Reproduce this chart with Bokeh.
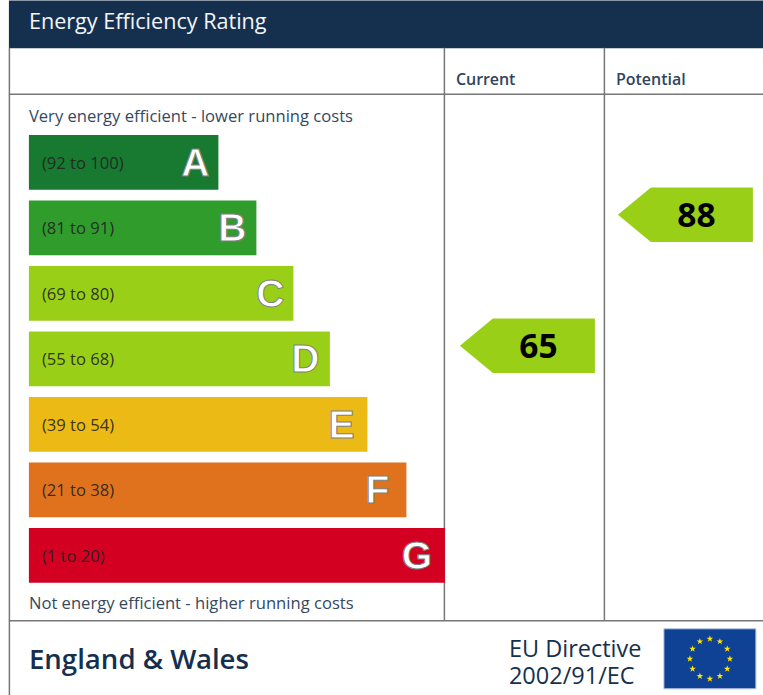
import math
from bokeh.plotting import figure
from bokeh.models import Range1d, ColumnDataSource
from bokeh.core.properties import value
from bokeh.embed import file_html
from bokeh.resources import INLINE

# ---- data ----
bands = ["A", "B", "C", "D", "E", "F", "G"]
ranges = ["(92 to 100)", "(81 to 91)", "(69 to 80)", "(55 to 68)", "(39 to 54)", "(21 to 38)", "(1 to 20)"]
bar_lengths = [189.5, 227.5, 264.5, 301, 338.5, 377.5, 416]
colors = ["#177a30", "#2f9c2c", "#99cf17", "#99cf17", "#ecba14", "#e0721e", "#d40021"]
current = 65
potential = 88
title = "Energy Efficiency Rating"
columns = ["Current", "Potential"]
top_note = "Very energy efficient - lower running costs"
bottom_note = "Not energy efficient - higher running costs"
region = "England & Wales"
directive = ["EU Directive", "2002/91/EC"]

NAVY = "#15304f"
GREY = "#777777"
POINTER = "#99cf17"
FONT = value("Open Sans")
SEMI = value("Open Sans SemiBold")

W, H = 763, 695
p = figure(width=W, height=H, output_backend="svg", toolbar_location=None,
           x_range=Range1d(0.6, W + 0.6), y_range=Range1d(H + 0.7, 0.7),
           min_border=0, outline_line_color=None, background_fill_color="white",
           border_fill_color="white", margin=(0, 0, 0, 0))
p.xaxis.visible = False
p.yaxis.visible = False
p.grid.visible = False

X0, ROW0, STEP, BH = 29.0, 162.6, 65.5, 54.6
ys = [ROW0 + i * STEP for i in range(len(bands))]
letter_offset = [23, 24, 23, 24.5, 26, 29, 28]

# header
p.quad(left=[9], right=[W + 1], top=[0], bottom=[48.5], fill_color=NAVY, line_color=None)
p.text(x=[29], y=[21], text=[title], text_font=FONT, text_font_size="21.6px",
       text_color="#f4f6f8", text_baseline="middle")

# frame lines
p.segment(x0=[9.5, 9, 9, 444.5, 604.5], y0=[48, 94.5, 621, 48, 48],
          x1=[9.5, W + 1, W + 1, 444.5, 604.5], y1=[696, 94.5, 621, 621, 621],
          line_color=GREY, line_width=1.5)
p.text(x=[456, 616], y=[79.3, 79.3], text=columns, text_font=SEMI, text_font_size="16px",
       text_color="#2f4560", text_baseline="middle")

# notes
p.text(x=[29, 29], y=[115.3, 602.8], text=[top_note, bottom_note], text_font=FONT,
       text_font_size="16.6px", text_color="#34495f", text_baseline="middle")

# bars
src = ColumnDataSource(dict(y=ys, r=[X0 + v for v in bar_lengths], c=colors, rng=ranges, b=bands,
                            lx=[X0 + v - o for v, o in zip(bar_lengths, letter_offset)],
                            tx=[42] * 7))
p.hbar(y="y", left=X0, right="r", height=BH, fill_color="c", line_color=None, source=src)
p.text(x="tx", y="y", text="rng", text_font=FONT, text_font_size="16.6px", text_color="#222222",
       text_alpha=0.9, text_baseline="middle", source=src)
p.text(x="lx", y="y", text="b", text_font=value("Liberation Sans"), text_font_size="39px",
       text_font_style="bold", text_color="white", text_align="center", text_baseline="middle",
       text_outline_color="#808080", source=src)


# pointers: vertical position follows the score
def score_y(score):
    return 215 + (potential - score) * (346 - 215) / (potential - current)


def pointer(score, right):
    yc = score_y(score)
    half = BH / 2
    left = right - 135
    p.patch(x=[left, left + 33, right, right, left + 33],
            y=[yc, yc - half, yc - half, yc + half, yc + half],
            fill_color=POINTER, line_color=None)
    p.text(x=[right - 56.4], y=[yc], text=[str(score)], text_font=FONT, text_font_size="33.5px",
           text_font_style="bold", text_color="#000000", text_align="center", text_baseline="middle")


pointer(current, 595)
pointer(potential, 753)

# footer
p.text(x=[29], y=[658.5], text=[region], text_font=SEMI, text_font_size="27.6px",
       text_color=NAVY, text_baseline="middle")
p.text(x=[509, 509], y=[648.3, 675.3], text=directive, text_font=FONT, text_font_size="23.5px",
       text_color=NAVY, text_baseline="middle")

# flag
p.quad(left=[664], right=[756], top=[629], bottom=[689], fill_color="#0f4195",
       line_color="#b9c8e2", line_width=1)
sx = [710 + 20 * math.sin(math.radians(a)) for a in range(0, 360, 30)]
sy = [659 - 20 * math.cos(math.radians(a)) for a in range(0, 360, 30)]
p.scatter(x=sx, y=sy, marker="star", size=7, fill_color="#ffe600", line_color=None)

open("out.html", "w").write(file_html(p, INLINE))
